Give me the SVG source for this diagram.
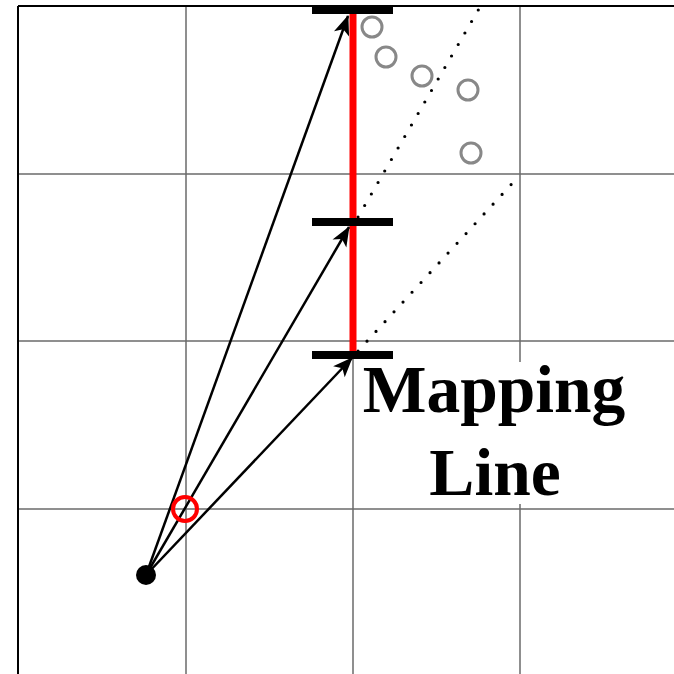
<svg xmlns="http://www.w3.org/2000/svg" width="674" height="674" viewBox="0 0 674 674">
<style>
.grid{stroke:#6a6a6a;stroke-width:1.5;fill:none}
.border{stroke:#000;stroke-width:2;fill:none}
.dot{stroke:#000;stroke-width:3.2;stroke-linecap:round;stroke-dasharray:0 13.3;fill:none}
.bar{fill:#000}
.arrow{stroke:#000;stroke-width:2.5;fill:none;marker-end:url(#ah)}
.pt{fill:none;stroke:#888;stroke-width:3}
.lbl{font-family:"Liberation Serif","Times New Roman",serif;font-weight:bold;font-size:67.5px;fill:#000;text-anchor:middle}
</style>
<defs>
<marker id="ah" markerUnits="userSpaceOnUse" markerWidth="26" markerHeight="18" viewBox="-21 -9 23 18" refX="0" refY="0" orient="auto">
<path d="M1,0 L-19,-8 L-14,0 L-19,8 z" fill="#000"/>
</marker>
</defs>
<rect width="674" height="674" fill="#fff"/>
<g id="grid">
<line class="grid" x1="186" y1="7" x2="186" y2="674"/>
<line class="grid" x1="353" y1="7" x2="353" y2="674"/>
<line class="grid" x1="520" y1="7" x2="520" y2="674"/>
<line class="grid" x1="18" y1="174" x2="674" y2="174"/>
<line class="grid" x1="18" y1="341" x2="674" y2="341"/>
<line class="grid" x1="18" y1="509" x2="674" y2="509"/>
<line class="border" x1="18" y1="6" x2="18" y2="674"/>
<line class="border" x1="18" y1="6" x2="674" y2="6"/>
</g>
<g id="connectors">
<line class="dot" x1="358" y1="351" x2="519" y2="176"/>
<line class="dot" x1="358" y1="217" x2="480" y2="7"/>
</g>
<g id="mapping-line">
<line x1="353" y1="10" x2="353" y2="355" stroke="#f00" stroke-width="7"/>
<rect class="bar" x="312" y="6" width="81" height="8"/>
<rect class="bar" x="312" y="218" width="81" height="8"/>
<rect class="bar" x="312" y="351" width="81" height="8"/>
</g>
<g id="arrows">
<line class="arrow" x1="146" y1="575" x2="348" y2="16"/>
<line class="arrow" x1="146" y1="575" x2="349" y2="227"/>
<line class="arrow" x1="146" y1="575" x2="352" y2="358"/>
</g>
<g id="origin"><circle cx="146" cy="575" r="10" fill="#000"/></g>
<g id="marker-red"><circle cx="185" cy="509" r="12" fill="none" stroke="#f00" stroke-width="4"/></g>
<g id="samples">
<circle class="pt" cx="372" cy="27" r="10"/>
<circle class="pt" cx="386" cy="57" r="10"/>
<circle class="pt" cx="422" cy="76" r="10"/>
<circle class="pt" cx="468" cy="90" r="10"/>
<circle class="pt" cx="471" cy="153" r="10"/>
</g>
<g id="label">
<rect x="360" y="362" width="272" height="142" fill="#fff"/>
<text class="lbl" x="494" y="412">Mapping</text>
<text class="lbl" x="495" y="495">Line</text>
</g>
</svg>
